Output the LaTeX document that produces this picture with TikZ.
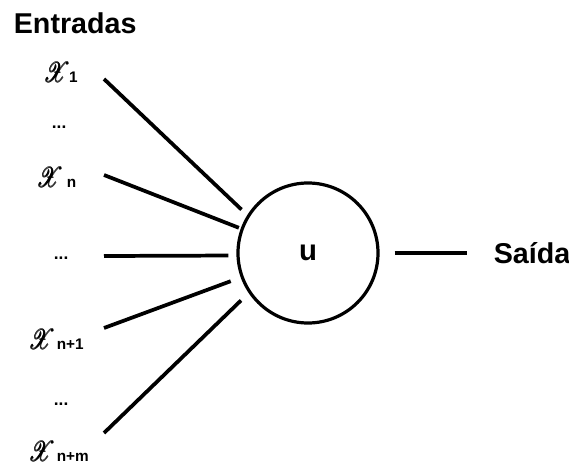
\documentclass[tikz,border=0pt]{standalone}
\usepackage{amsmath}
\usepackage{fontspec}
\setmainfont{Liberation Sans}
\usepackage{mathrsfs}
\usetikzlibrary{positioning}

\begin{document}
\begin{tikzpicture}[
	x=0.75pt, y=-0.75pt,
	line width=2.8pt,
	% Text styles
	title/.style={font=\bfseries\fontsize{21.5}{24}\selectfont, anchor=base west, inner sep=0pt},
	xin/.style={font=\fontsize{21}{24}\selectfont, anchor=base west, inner sep=0pt},
	etc/.style={font=\bfseries\fontsize{13}{14}\selectfont, anchor=base west, inner sep=0pt},
	% Neuron
	neuron/.style={circle, draw, line width=2.4pt, minimum size=105pt, inner sep=0pt, font=\bfseries\fontsize{22}{24}\selectfont}
	]
	
	\useasboundingbox (0,0) rectangle (569,468);
	
	% ==============================================================================
	% INPUTS
	% ==============================================================================
	\node[title] (entradas) at (12,33) {Entradas};
	
	\node[xin] (x1)  at (42,82)  {\scalebox{0.8}[1]{\pmb{$\mathscr{X}$}}\hspace{-1pt}{\bfseries\fontsize{11.5}{12}\selectfont 1}};
	\node[xin] (xn)  at (35,187) {\scalebox{0.8}[1]{\pmb{$\mathscr{X}$}}\hspace{2.5pt}{\bfseries\fontsize{11.5}{12}\selectfont n}};
	\node[xin] (xn1) at (27,349) {\scalebox{0.8}[1]{\pmb{$\mathscr{X}$}}\hspace{1pt}{\bfseries\fontsize{11.5}{12}\selectfont n+1}};
	\node[xin] (xnm) at (27,461) {\scalebox{0.8}[1]{\pmb{$\mathscr{X}$}}\hspace{1pt}{\bfseries\fontsize{11.5}{12}\selectfont n+m}};
	
	\node[etc] (d1)  at (50,128) {...};
	\node[etc] (d2)  at (52,259) {...};
	\node[etc] (d3)  at (52,405) {...};
	
	% ==============================================================================
	% NEURON AND OUTPUT
	% ==============================================================================
	\node[neuron] (u) at (308,253) {u};
	\node[title] (saida) at (492,263) {Saída};
	
	% line starts
	\coordinate (a1) at (104,79);
	\coordinate (a2) at (104,175);
	\coordinate (a3) at (104,256);
	\coordinate (a4) at (104,328);
	\coordinate (a5) at (104,433);
	
	\draw[shorten >=6pt]   (a1) -- (u.148);
	\draw[shorten >=1.5pt] (a2) -- (u.160);
	\draw[shorten >=6pt]   (a3) -- (u.182);
	\draw[shorten >=8pt]   (a4) -- (u.200);
	\draw[shorten >=8pt]   (a5) -- (u.214);
	
	\draw[shorten <=11.25pt, shorten >=18.75pt] (u.east) -- (u.east -| saida.west);
	
\end{tikzpicture}
\end{document}
